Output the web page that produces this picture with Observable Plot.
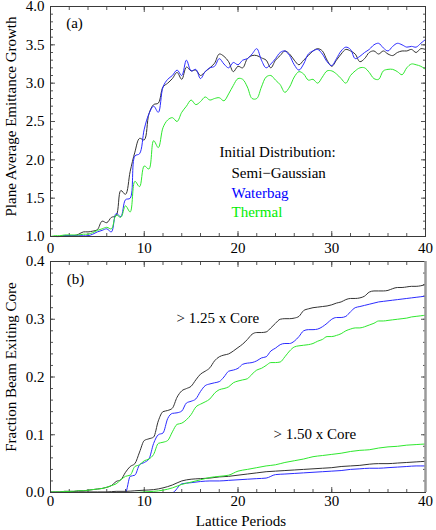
<!DOCTYPE html>
<html>
<head>
<meta charset="utf-8">
<script src="https://cdn.jsdelivr.net/npm/d3@7"></script>
<script src="https://cdn.jsdelivr.net/npm/@observablehq/plot@0.6"></script>
<style>
  html, body { margin: 0; padding: 0; background: #fff; }
  #chart { width: 436px; height: 530px; overflow: hidden; }
  #chart svg { display: block; font-family: "Liberation Serif", "DejaVu Serif", serif; }
  #chart svg text { font-family: "Liberation Serif", "DejaVu Serif", serif; }
</style>
</head>
<body>
<div id="chart"></div>
<script>
// ---------- data ----------
const distributions = ["Semi−Gaussian", "Waterbag", "Thermal"];
const lineColors = ["#333333", "#2b2bff", "#2ee82e"];
const textColors = ["#000000", "#0000ff", "#00ee00"];

const xTickLabels = [0, 10, 20, 30, 40];
const yTickLabelsTop = [1.0, 1.5, 2.0, 2.5, 3.0, 3.5, 4.0];
const yTickLabelsBottom = [0.0, 0.1, 0.2, 0.3, 0.4];

// Panel (a): plane average emittance growth vs lattice periods
const periodsA = [0,0.5,1,1.5,2,2.5,3,3.5,4,4.5,5,5.5,6,6.5,7,7.5,8,8.5,9,9.5,10,10.5,11,11.5,12,12.5,13,13.5,14,14.5,15,15.5,16,16.5,17,17.5,18,18.5,19,19.5,20,20.5,21,21.5,22,22.5,23,23.5,24,24.5,25,25.5,26,26.5,27,27.5,28,28.5,29,29.5,30,30.5,31,31.5,32,32.5,33,33.5,34,34.5,35,35.5,36,36.5,37,37.5,38,38.5,39,39.5,40];
const semiGaussianA = [1.00,1.00,1.00,1.01,1.01,1.01,1.03,1.06,1.06,1.07,1.09,1.20,1.18,1.25,1.27,1.60,1.55,1.85,2.10,2.28,2.26,2.60,2.72,2.74,2.95,3.00,3.06,3.14,3.05,3.21,3.16,3.17,3.10,3.15,3.20,3.26,3.38,3.35,3.28,3.15,3.22,3.20,3.32,3.36,3.36,3.33,3.30,3.20,3.30,3.36,3.42,3.38,3.30,3.24,3.30,3.36,3.42,3.45,3.42,3.30,3.22,3.30,3.38,3.44,3.42,3.38,3.28,3.32,3.40,3.42,3.38,3.42,3.38,3.36,3.40,3.42,3.42,3.44,3.40,3.45,3.44];
const waterbagA = [1.00,1.00,1.00,1.01,1.01,1.01,1.01,1.01,1.01,1.03,1.06,1.08,1.10,1.06,1.30,1.26,1.48,1.50,2.05,2.08,2.40,2.60,2.70,2.62,2.95,3.05,3.10,3.17,3.10,3.30,3.16,3.18,3.06,3.15,3.20,3.22,3.32,3.25,3.20,3.27,3.24,3.30,3.32,3.38,3.45,3.30,3.20,3.25,3.32,3.40,3.42,3.36,3.24,3.17,3.25,3.38,3.42,3.44,3.38,3.28,3.23,3.32,3.42,3.47,3.44,3.32,3.35,3.40,3.44,3.50,3.52,3.46,3.42,3.48,3.52,3.50,3.47,3.48,3.47,3.52,3.57];
const thermalA = [1.00,1.01,1.01,1.02,1.02,1.02,1.02,1.03,1.03,1.05,1.08,1.10,1.12,1.10,1.28,1.25,1.40,1.32,1.72,1.65,1.92,1.88,2.25,2.16,2.42,2.52,2.55,2.50,2.62,2.70,2.78,2.72,2.76,2.82,2.78,2.80,2.81,2.77,2.86,2.97,3.06,3.05,2.95,2.80,2.80,2.95,3.08,3.10,3.04,2.98,2.88,2.95,3.08,3.15,3.12,3.04,3.05,3.00,3.08,3.16,3.16,3.12,3.06,3.00,3.10,3.16,3.20,3.20,3.14,3.06,3.05,3.16,3.18,3.18,3.15,3.11,3.20,3.25,3.24,3.22,3.18];

// Panel (b): fraction of beam exiting core, > 1.25 x core
const periodsB125 = periodsA;
const semiGaussian125 = [0.001,0.001,0.001,0.002,0.002,0.002,0.003,0.003,0.004,0.005,0.006,0.007,0.009,0.012,0.019,0.022,0.035,0.045,0.050,0.070,0.090,0.093,0.096,0.124,0.140,0.142,0.146,0.165,0.176,0.180,0.184,0.195,0.205,0.210,0.216,0.228,0.235,0.238,0.240,0.245,0.251,0.257,0.265,0.274,0.277,0.277,0.278,0.285,0.293,0.300,0.301,0.301,0.302,0.305,0.315,0.318,0.320,0.321,0.322,0.323,0.325,0.328,0.330,0.334,0.336,0.336,0.337,0.340,0.347,0.349,0.349,0.349,0.350,0.353,0.355,0.355,0.356,0.357,0.357,0.358,0.360];
const waterbag125 = [0.000,0.000,0.000,0.000,0.000,0.000,0.000,0.000,0.000,0.000,0.000,0.000,0.000,0.000,0.000,0.000,0.000,0.028,0.030,0.048,0.052,0.058,0.085,0.100,0.103,0.128,0.137,0.138,0.141,0.155,0.158,0.162,0.175,0.185,0.188,0.190,0.192,0.200,0.210,0.212,0.215,0.222,0.224,0.225,0.228,0.233,0.235,0.245,0.250,0.256,0.258,0.258,0.262,0.270,0.280,0.282,0.282,0.283,0.287,0.293,0.300,0.303,0.303,0.305,0.313,0.320,0.322,0.324,0.326,0.328,0.330,0.331,0.332,0.333,0.334,0.335,0.336,0.337,0.338,0.339,0.340];
const thermal125 = [0.001,0.001,0.001,0.002,0.002,0.002,0.003,0.003,0.004,0.005,0.006,0.007,0.009,0.012,0.015,0.022,0.028,0.030,0.045,0.048,0.055,0.058,0.066,0.085,0.087,0.090,0.105,0.118,0.120,0.126,0.135,0.148,0.153,0.157,0.162,0.172,0.178,0.180,0.183,0.190,0.193,0.195,0.197,0.205,0.212,0.215,0.220,0.225,0.225,0.226,0.235,0.245,0.252,0.254,0.255,0.256,0.258,0.262,0.265,0.270,0.270,0.272,0.275,0.280,0.283,0.285,0.285,0.287,0.290,0.293,0.297,0.297,0.298,0.299,0.300,0.301,0.302,0.304,0.305,0.306,0.307];

// Panel (b): > 1.50 x core
const periodsB150 = [0,1,2,3,4,5,6,7,8,9,10,11,12,13,14,15,16,17,18,19,20,21,22,23,24,25,26,27,28,29,30,31,32,33,34,35,36,37,38,39,40];
const semiGaussian150 = [0.000,0.000,0.000,0.001,0.001,0.001,0.001,0.002,0.002,0.003,0.004,0.005,0.008,0.013,0.020,0.023,0.024,0.025,0.027,0.028,0.030,0.032,0.034,0.036,0.037,0.038,0.039,0.040,0.041,0.042,0.043,0.045,0.046,0.047,0.049,0.050,0.050,0.051,0.052,0.053,0.054];
const waterbag150 = [0.000,0.000,0.000,0.000,0.000,0.000,0.000,0.000,0.000,0.000,0.000,0.000,0.000,0.000,0.015,0.017,0.019,0.020,0.020,0.021,0.022,0.023,0.024,0.025,0.031,0.032,0.033,0.034,0.035,0.036,0.037,0.038,0.040,0.041,0.042,0.042,0.043,0.044,0.045,0.046,0.046];
const thermal150 = [0.000,0.000,0.000,0.000,0.000,0.000,0.000,0.000,0.000,0.000,0.001,0.002,0.004,0.008,0.014,0.018,0.022,0.026,0.028,0.030,0.037,0.040,0.043,0.046,0.048,0.052,0.055,0.058,0.062,0.064,0.066,0.068,0.071,0.073,0.074,0.077,0.079,0.080,0.082,0.083,0.084];

// ---------- build tables ----------
const rows = (xs, ys, s, g) => xs.map((x, i) => ({x, y: ys[i], s, g}));
const dataA = [
  ...rows(periodsA, semiGaussianA, distributions[0], "a"),
  ...rows(periodsA, waterbagA, distributions[1], "a"),
  ...rows(periodsA, thermalA, distributions[2], "a")
];
const dataB = [
  ...rows(periodsB125, semiGaussian125, distributions[0], "125"),
  ...rows(periodsB125, waterbag125, distributions[1], "125"),
  ...rows(periodsB125, thermal125, distributions[2], "125"),
  ...rows(periodsB150, semiGaussian150, distributions[0], "150"),
  ...rows(periodsB150, waterbag150, distributions[1], "150"),
  ...rows(periodsB150, thermal150, distributions[2], "150")
];

const xDomain = [xTickLabels[0], xTickLabels[xTickLabels.length - 1]];
const xMinor = d3.range(xDomain[0], xDomain[1] + 0.001, 2);
const yMinorTop = d3.range(1, 4.001, 0.1).map(v => +v.toFixed(2));
const yMinorBottom = d3.range(0, 0.4001, 0.02).map(v => +v.toFixed(3));

const frameColor = "#3a3a3a";
const tickColor = "#555";
const FS = 15;
const FF = "'Liberation Serif', 'DejaVu Serif', serif";

function tickMarks(yMajor, yMinor) {
  const o = {fill: "none", stroke: tickColor, label: null, tickFormat: () => ""};
  return [
    Plot.axisX(xTickLabels, {anchor: "bottom", tickSize: -5, ...o}),
    Plot.axisX(xMinor, {anchor: "bottom", tickSize: -3, ...o}),
    Plot.axisX(xTickLabels, {anchor: "top", tickSize: -5, ...o}),
    Plot.axisX(xMinor, {anchor: "top", tickSize: -3, ...o}),
    Plot.axisY(yMajor, {anchor: "left", tickSize: -5, ...o}),
    Plot.axisY(yMinor, {anchor: "left", tickSize: -3, ...o}),
    Plot.axisY(yMajor, {anchor: "right", tickSize: -5, ...o}),
    Plot.axisY(yMinor, {anchor: "right", tickSize: -3, ...o})
  ];
}

const color = {domain: distributions, range: lineColors};
const txt = {fontSize: FS, fontFamily: FF, fill: "#000"};

// ---------- panel (a) ----------
const panelA = Plot.plot({
  width: 436, height: 254,
  marginLeft: 50, marginRight: 11, marginTop: 6, marginBottom: 18,
  style: {fontFamily: FF, fontSize: FS + "px", background: "#fff", overflow: "visible"},
  x: {domain: xDomain},
  y: {domain: [yTickLabelsTop[0], yTickLabelsTop[yTickLabelsTop.length - 1]]},
  color,
  marks: [
    ...tickMarks(yTickLabelsTop, yMinorTop),
    Plot.axisX(xTickLabels, {anchor: "bottom", tickSize: 0, tickPadding: 6, label: null, ...txt}),
    Plot.axisY(yTickLabelsTop, {anchor: "left", tickSize: 0, tickPadding: 6, label: null, tickFormat: d3.format(".1f"), ...txt}),
    Plot.line(dataA, {x: "x", y: "y", z: "s", stroke: "s", strokeWidth: 1, curve: "catmull-rom"}),
    Plot.frame({stroke: frameColor}),
    Plot.text(["(a)"], {frameAnchor: "top-left", dx: 24, dy: 17, textAnchor: "middle", lineAnchor: "middle", ...txt}),
    Plot.text(["Initial Distribution:"], {frameAnchor: "top-left", dx: 169, dy: 146, textAnchor: "start", lineAnchor: "middle", ...txt}),
    Plot.text([distributions[0]], {frameAnchor: "top-left", dx: 181, dy: 167, textAnchor: "start", lineAnchor: "middle", ...txt, fill: textColors[0]}),
    Plot.text([distributions[1]], {frameAnchor: "top-left", dx: 181, dy: 187, textAnchor: "start", lineAnchor: "middle", ...txt, fill: textColors[1]}),
    Plot.text([distributions[2]], {frameAnchor: "top-left", dx: 181, dy: 206, textAnchor: "start", lineAnchor: "middle", ...txt, fill: textColors[2]}),
    Plot.text(["Plane Average Emittance Growth"], {frameAnchor: "left", rotate: -90, dx: -39, dy: -5, textAnchor: "middle", lineAnchor: "middle", ...txt})
  ]
});

// ---------- panel (b) ----------
const panelB = Plot.plot({
  width: 436, height: 276,
  marginLeft: 50, marginRight: 11, marginTop: 7, marginBottom: 38,
  style: {fontFamily: FF, fontSize: FS + "px", background: "#fff", overflow: "visible"},
  x: {domain: xDomain},
  y: {domain: [yTickLabelsBottom[0], yTickLabelsBottom[yTickLabelsBottom.length - 1]]},
  color,
  marks: [
    ...tickMarks(yTickLabelsBottom, yMinorBottom),
    Plot.axisX(xTickLabels, {anchor: "bottom", tickSize: 0, tickPadding: 3, label: null, ...txt}),
    Plot.axisY(yTickLabelsBottom, {anchor: "left", tickSize: 0, tickPadding: 6, label: null, tickFormat: d3.format(".1f"), ...txt}),
    Plot.line(dataB, {x: "x", y: "y", z: d => d.s + d.g, stroke: "s", strokeWidth: 1, curve: "monotone-x"}),
    Plot.frame({stroke: frameColor}),
    Plot.ruleX([xDomain[1]], {stroke: "#9a9a9a", strokeWidth: 2.5}),
    Plot.text(["(b)"], {frameAnchor: "top-left", dx: 25, dy: 18, textAnchor: "middle", lineAnchor: "middle", ...txt}),
    Plot.text(["> 1.25 x Core"], {frameAnchor: "top-left", dx: 126, dy: 57, textAnchor: "start", lineAnchor: "middle", ...txt}),
    Plot.text(["> 1.50 x Core"], {frameAnchor: "top-left", dx: 223, dy: 173, textAnchor: "start", lineAnchor: "middle", ...txt}),
    Plot.text(["Fraction Beam Exiting Core"], {frameAnchor: "left", rotate: -90, dx: -39, dy: -10, textAnchor: "middle", lineAnchor: "middle", ...txt}),
    Plot.text(["Lattice Periods"], {frameAnchor: "bottom", dx: 3, dy: 29, textAnchor: "middle", lineAnchor: "middle", ...txt})
  ]
});

const chart = document.getElementById("chart");
chart.appendChild(panelA);
chart.appendChild(panelB);
</script>
</body>
</html>
